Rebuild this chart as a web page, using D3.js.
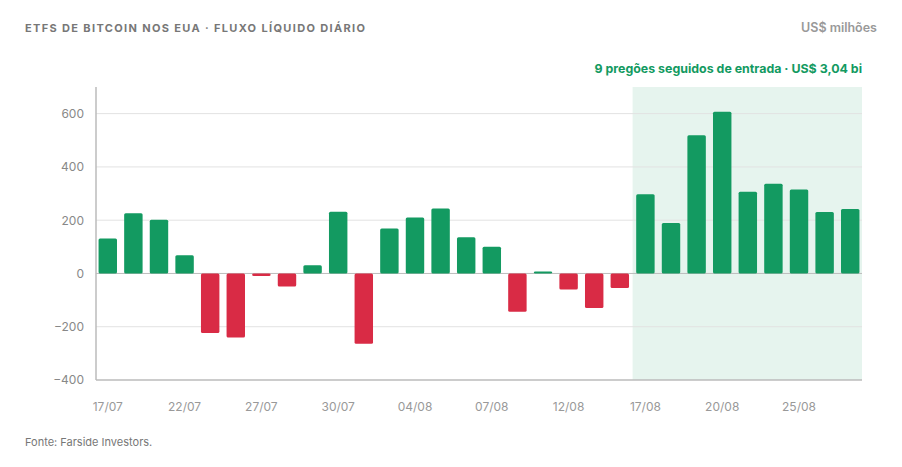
<!DOCTYPE html>
<html>
<head>
<meta charset="utf-8">
<script src="https://cdn.jsdelivr.net/npm/d3@7"></script>
<style>
  html, body { margin: 0; padding: 0; background: #fff; }
  body { font-family: Inter, "Noto Sans", sans-serif; }
  svg text { font-family: Inter, "Noto Sans", sans-serif; }
</style>
</head>
<body>
<div id="chart"></div>
<script>
// pregões (dias de negociação)
const dates = [
    '17/07', '18/07', '21/07', '22/07', '23/07', '24/07', '27/07', '28/07', '29/07', '30/07',
    '31/07', '01/08', '04/08', '05/08', '06/08', '07/08', '08/08', '11/08', '12/08', '13/08',
    '14/08', '17/08', '18/08', '19/08', '20/08', '21/08', '22/08', '25/08', '26/08', '27/08'
];
// fluxo líquido diário, US$ milhões
const flows = [
    131, 226, 202, 68, -224, -240, -10, -49, 31, 232,
    -264, 169, 210, 244, 136, 100, -144, 7, -60, -130,
    -55, 297, 189, 519, 607, 307, 337, 315, 231, 242
];
const xTickLabels = ['17/07', '22/07', '27/07', '30/07', '04/08', '07/08', '12/08', '17/08', '20/08', '25/08'];
const yTicks = [-400, -200, 0, 200, 400, 600];
const streakStart = '17/08';

const width = 902, height = 467;
const margin = { top: 87, right: 40, bottom: 87, left: 96 };
const innerWidth = width - margin.left - margin.right;
const innerHeight = height - margin.top - margin.bottom;

const GREEN = '#139a61', RED = '#d92b45', GREY = '#777';

const svg = d3.select('#chart')
    .append('svg')
    .attr('width', width)
    .attr('height', height);

// Title / unit
svg.append('text')
    .attr('x', 25).attr('y', 32)
    .style('font-size', '11px')
    .style('font-weight', 700)
    .style('letter-spacing', '1.35px')
    .style('fill', GREY)
    .text('ETFS DE BITCOIN NOS EUA · FLUXO LÍQUIDO DIÁRIO');

svg.append('text')
    .attr('x', 877).attr('y', 32)
    .attr('text-anchor', 'end')
    .style('font-size', '12.5px')
    .style('font-weight', 600)
    .style('fill', '#999')
    .text('US$ milhões');

const g = svg.append('g')
    .attr('transform', `translate(${margin.left},${margin.top})`);

const x = d3.scaleBand()
    .domain(dates)
    .range([0, innerWidth])
    .paddingInner(0.28)
    .paddingOuter(0.1);

const y = d3.scaleLinear()
    .domain([-400, 700])
    .range([innerHeight, 0]);

// Highlight of the streak
const hx = x(streakStart) - x.step() * x.paddingInner() / 2;
g.append('rect')
    .attr('x', hx)
    .attr('y', 0)
    .attr('width', innerWidth - hx)
    .attr('height', innerHeight)
    .attr('fill', '#e6f4ee');

svg.append('text')
    .attr('x', margin.left + innerWidth).attr('y', 73)
    .attr('text-anchor', 'end')
    .style('font-size', '12.4px')
    .style('font-weight', 700)
    .style('fill', GREEN)
    .text('9 pregões seguidos de entrada · US$ 3,04 bi');

// Grid
g.selectAll('.grid')
    .data(yTicks.filter(d => d !== -400))
    .enter()
    .append('line')
    .attr('x1', 0).attr('x2', innerWidth)
    .attr('y1', d => y(d)).attr('y2', d => y(d))
    .attr('stroke', d => d === 0 ? '#bdbdbd' : '#e2e2e2')
    .attr('stroke-width', 1);

// Y axis
const yAxis = g.append('g')
    .call(d3.axisLeft(y).tickValues(yTicks).tickSize(0).tickPadding(12).tickFormat(d3.format('d')))
    .attr('font-family', null)
    .attr('font-size', null);
yAxis.select('.domain').remove();
yAxis.selectAll('text')
    .style('font-size', '12px')
    .style('fill', '#888');

g.append('line')
    .attr('x1', 0).attr('x2', 0)
    .attr('y1', 0).attr('y2', innerHeight)
    .attr('stroke', '#bbb').attr('stroke-width', 1.5);
g.append('line')
    .attr('x1', 0).attr('x2', innerWidth)
    .attr('y1', innerHeight).attr('y2', innerHeight)
    .attr('stroke', '#bbb').attr('stroke-width', 1.5);

// X axis
const xAxis = g.append('g')
    .attr('transform', `translate(0,${innerHeight})`)
    .call(d3.axisBottom(x).tickValues(xTickLabels).tickSize(0).tickPadding(22))
    .attr('font-family', null)
    .attr('font-size', null);
xAxis.select('.domain').remove();
xAxis.selectAll('text')
    .style('font-size', '12px')
    .style('fill', '#999');

// Bars
g.selectAll('.bar')
    .data(dates.map((d, i) => ({ date: d, value: flows[i] })))
    .enter()
    .append('rect')
    .attr('class', 'bar')
    .attr('x', d => x(d.date))
    .attr('width', x.bandwidth())
    .attr('y', d => y(Math.max(0, d.value)))
    .attr('height', d => Math.abs(y(d.value) - y(0)))
    .attr('rx', 1.5)
    .attr('fill', d => d.value >= 0 ? GREEN : RED);

// Source
svg.append('text')
    .attr('x', 25).attr('y', 446)
    .style('font-size', '11px')
    .style('fill', GREY)
    .text('Fonte: Farside Investors.');
</script>
</body>
</html>
